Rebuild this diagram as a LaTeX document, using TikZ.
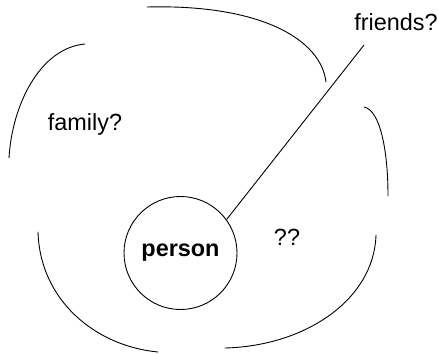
\documentclass[tikz,border=0pt]{standalone}
\usepackage{fontspec}
\setmainfont{Liberation Sans}
\begin{document}
\begin{tikzpicture}[x=1bp, y=-1bp, line width=0.9bp,
  every node/.style={font=\fontsize{23.5}{28}\selectfont},
  self/.style={draw,circle,minimum size=113bp,inner sep=0pt,font=\fontsize{23.5}{28}\selectfont\bfseries},
  group/.style={line cap=round}]
\useasboundingbox (0,0) rectangle (439,353);
\node[self] (person) at (180.5,253) {person};
\node (friends) at (396,22) {friends?};
\node (family) at (85,124) {family?};
\node (unknown) at (287,237) {??};
\coordinate (fr) at (364,45);
\draw (person.36) -- (fr);
% circles of acquaintance, drawn as open arcs
\draw[group] (147,7) .. controls (262,4) and (321,40) .. (326,82);
\draw[group] (85,44) .. controls (40,48) and (12,105) .. (9,158);
\draw[group] (364,107) .. controls (380,110) and (388,150) .. (388,196);
\draw[group] (38,232) .. controls (40,300) and (95,346) .. (158,352);
\draw[group] (376,235) .. controls (374,300) and (305,346) .. (225,348);
\end{tikzpicture}
\end{document}
